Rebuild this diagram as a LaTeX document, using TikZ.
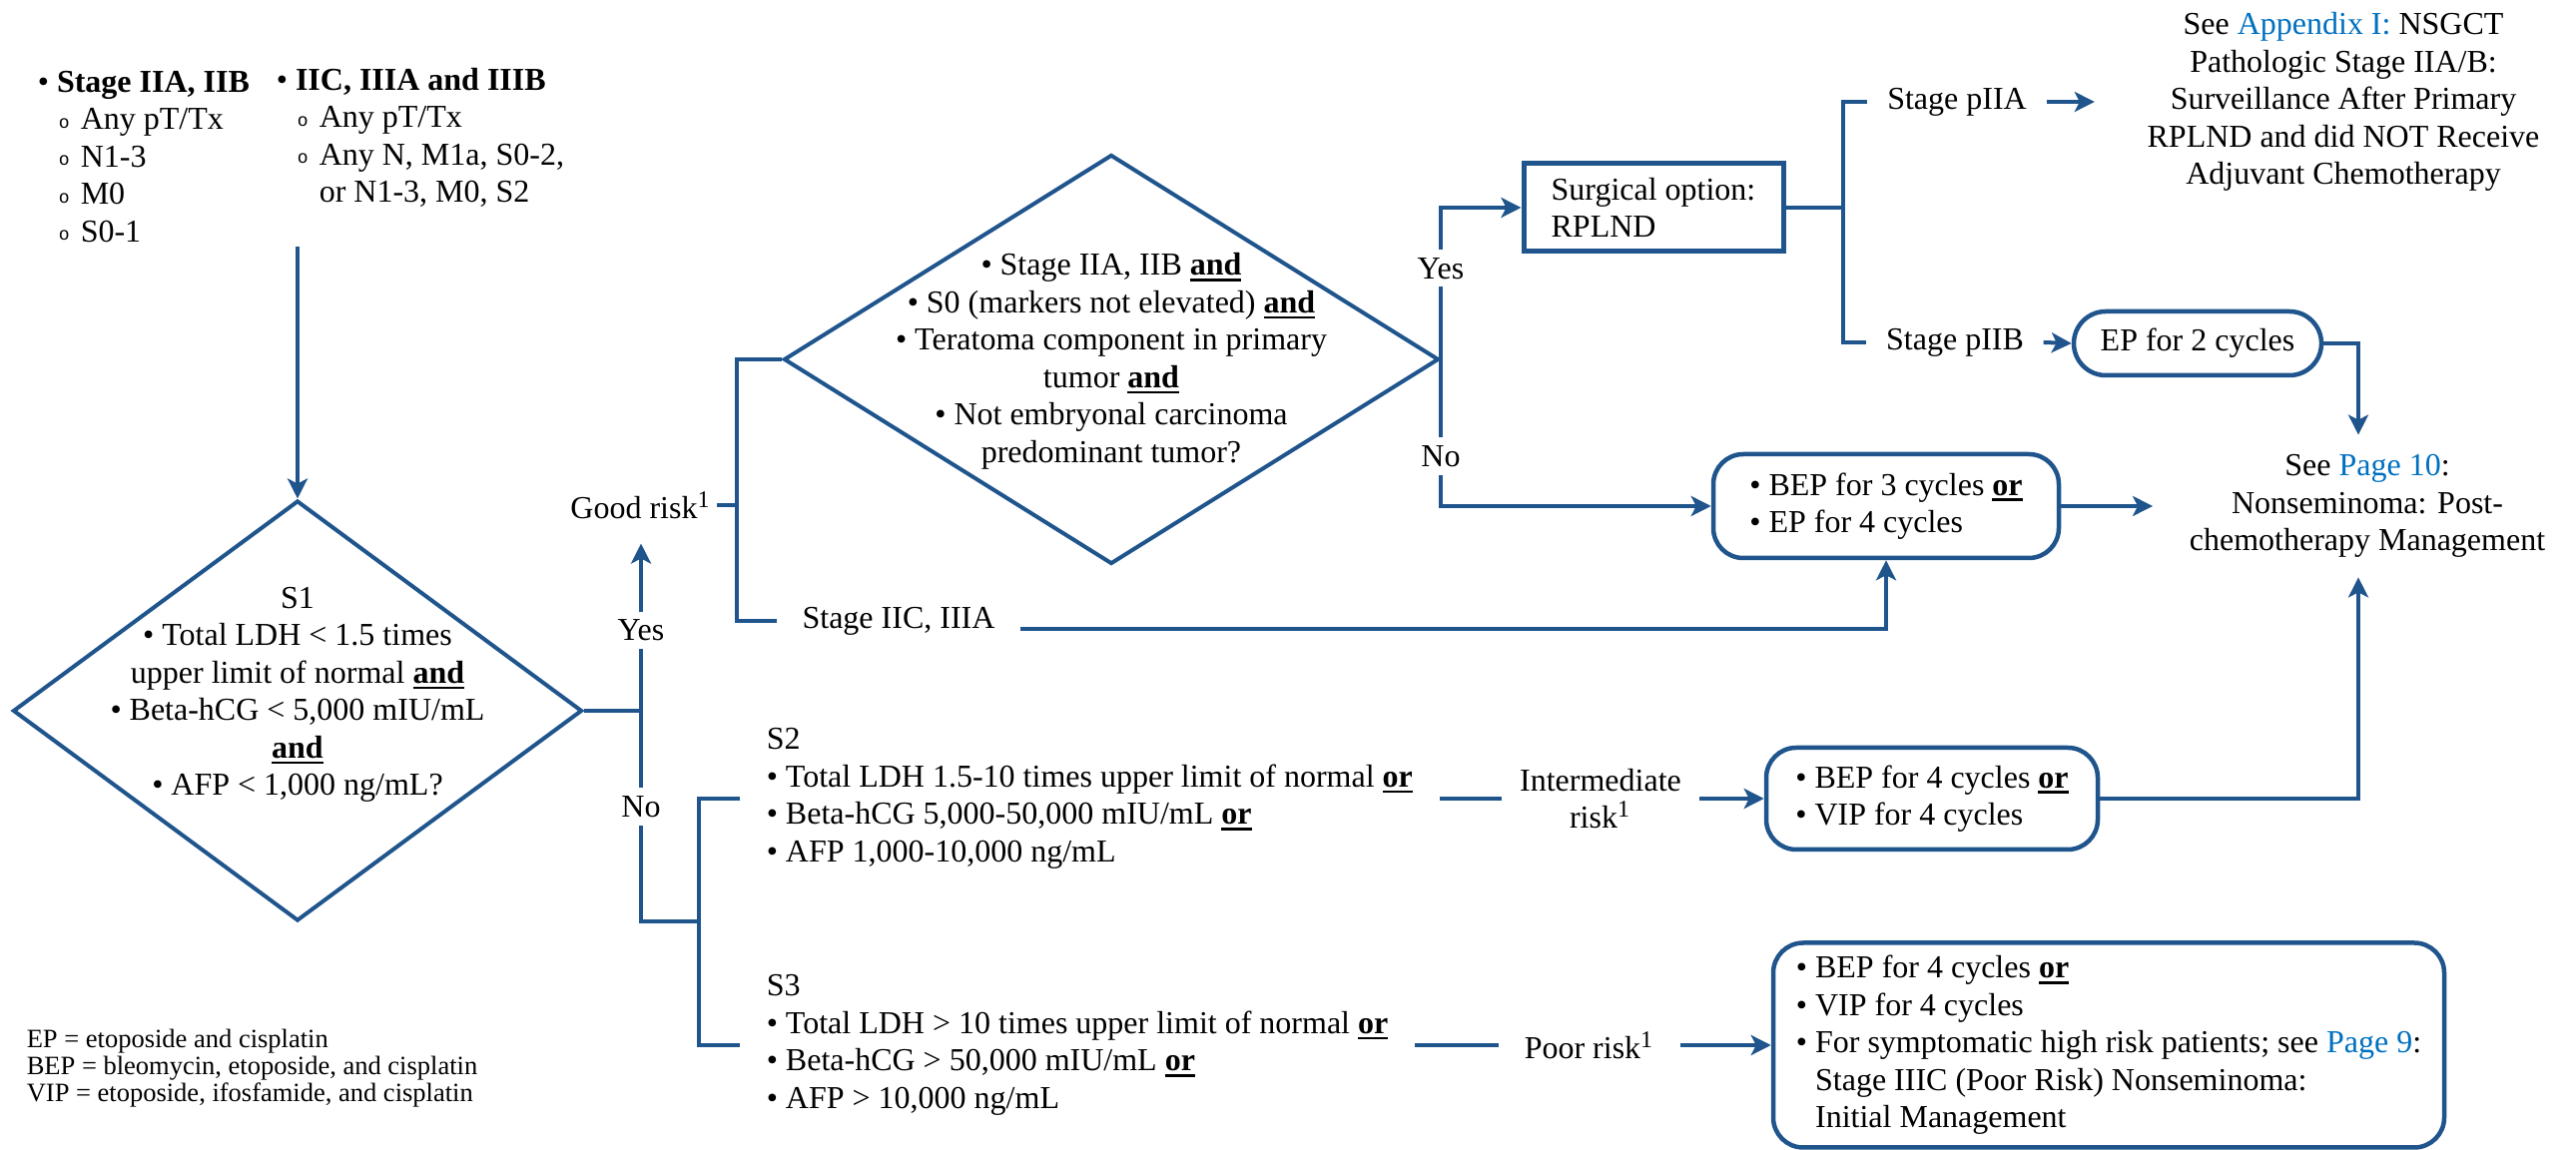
\documentclass[tikz,border=0pt]{standalone}
\usepackage{fontspec}
\setmainfont{Liberation Serif}
\newfontfamily\monofnt{Liberation Mono}
\usetikzlibrary{arrows.meta,shapes.geometric,calc}

\definecolor{flowblue}{RGB}{31,85,140}
\definecolor{linkblue}{RGB}{0,112,192}

% bold underlined keyword
\newsavebox\ulbox
\newcommand\ulbf[1]{\sbox\ulbox{\textbf{#1}}\rlap{\rule[-1.5pt]{\wd\ulbox}{0.65pt}}\usebox\ulbox}
% list markers
\newcommand\bul{\makebox[0.6em][l]{\textbullet}}
\newcommand\bulsp{\hspace*{0.6em}}
\newcommand\subb{\hspace*{5.25pt}\makebox[5.5pt][l]{\raisebox{0.375pt}{\monofnt\fontsize{4.5}{4.5}\selectfont o}}}

\tikzset{
  txt/.style={inner sep=0pt, font=\fontsize{8}{9.375}\selectfont},
  fn/.style={inner sep=0pt, font=\fontsize{6.625}{6.75}\selectfont},
  ln/.style={draw=flowblue, line width=1pt},
  arr/.style={ln, -{Stealth[length=5pt,width=5pt,inset=1.25pt]}},
  lbl/.style={txt, fill=white, inner xsep=0.75pt, inner ysep=2pt},
  rbox/.style={txt, draw=flowblue, line width=1.125pt, rounded corners=7.5pt, align=left},
  sbox/.style={txt, draw=flowblue, line width=1.25pt, align=left},
  pill/.style={txt, draw=flowblue, line width=1.125pt, rounded corners=8pt},
  dia/.style={diamond, draw=flowblue, line width=1pt, inner sep=0pt},
}

\begin{document}
% coordinates are given in units of 0.25pt
\begin{tikzpicture}[x=0.25pt, y=-0.25pt]
\useasboundingbox (0,0) rectangle (2580,1152);

% ---- stage lists ----
\node[txt, anchor=west, align=left] (stA) at (37,157)
  {\bul\textbf{Stage IIA, IIB}\\
   \subb Any pT/Tx\\
   \subb N1-3\\
   \subb M0\\
   \subb S0-1};
\node[txt, anchor=west, align=left] (stB) at (276,138)
  {\bul\textbf{IIC, IIIA and IIIB}\\
   \subb Any pT/Tx\\
   \subb Any N, M1a, S0-2,\\
   \hspace*{10.75pt}or N1-3, M0, S2};

% ---- S1 decision ----
\node[dia, minimum width=142.5pt, minimum height=105.25pt] (s1) at (298,712) {};
\node[txt, align=center] (s1t) at (298,696)
  {S1\\
   \bul Total LDH < 1.5 times\\
   upper limit of normal \ulbf{and}\\
   \bul Beta-hCG < 5,000 mIU/mL\\
   \ulbf{and}\\
   \bul AFP < 1,000 ng/mL?};
\coordinate (a0) at (298,247);
\draw[arr] (a0) -- (s1.north);

\coordinate (j1) at (642,712);
\coordinate (j2) at (642,923);
\coordinate (b2) at (700,923);
\node[txt, inner xsep=1.25pt] (good) at (642,506) {Good risk\textsuperscript{1}};
\draw[ln] (s1.east) -- (j1);
\draw[arr] (j1) -- node[lbl, pos=0.48] {Yes} ([yshift=-6pt]good.south);
\draw[ln] (j1) -- node[lbl, pos=0.455] {No} (j2) -- (b2);

% ---- good risk: teratoma decision ----
\node[dia, minimum width=164pt, minimum height=102.5pt] (d2) at (1113,360) {};
\node[txt, align=center] (d2t) at (1113,362)
  {\bul Stage IIA, IIB \ulbf{and}\\
   \bul S0 (markers not elevated) \ulbf{and}\\
   \bul Teratoma component in primary\\
   tumor \ulbf{and}\\
   \bul Not embryonal carcinoma\\
   predominant tumor?};
\coordinate (gb) at (738,506);
\node[txt, inner xsep=6.25pt] (st2c) at (900,622) {Stage IIC, IIIA};
\draw[ln] (good.east) -- (gb);
\draw[ln] (d2.west) -| (gb) |- (st2c.west);

\node[sbox, minimum width=65pt, minimum height=22pt] (surg) at (1656,208)
  {Surgical option:\\ RPLND};
\node[rbox, minimum width=86.5pt, minimum height=26pt] (bep3) at (1889,507)
  {\bul BEP for 3 cycles \ulbf{or}\\ \bul EP for 4 cycles};
\draw[arr] (d2.east) |- node[lbl, pos=0.3] {Yes} (surg.west);
\draw[arr] (d2.east) |- node[lbl, pos=0.33] {No} (bep3.west);
\draw[arr] ([yshift=-2pt]st2c.east) -| (bep3.south);

% ---- pathologic stage after RPLND ----
\coordinate (sb) at (1846,208);
\node[txt, inner xsep=4.75pt] (p2a) at (1960,102) {Stage pIIA};
\node[txt, inner xsep=4.75pt] (p2b) at (1958,343) {Stage pIIB};
\draw[ln] (surg.east) -- (sb);
\draw[ln] (p2a.west) -| (sb) |- (p2b.west);

\node[txt, align=center, inner xsep=13pt] (appx) at (2347,102)
  {See \textcolor{linkblue}{Appendix I:} NSGCT\\
   Pathologic Stage IIA/B:\\
   Surveillance After Primary\\
   RPLND and did NOT Receive\\
   Adjuvant Chemotherapy};
\draw[arr] (p2a.east) -- (appx.west);

\node[pill, minimum width=62pt, minimum height=16pt] (ep2) at (2201,344) {EP for 2 cycles};
\draw[arr] (p2b.east) -- (ep2.west);

\node[txt, align=center, inner xsep=9pt, inner ysep=4.75pt] (see10) at (2371,507)
  {See \textcolor{linkblue}{Page 10}:\\
   Nonseminoma: Post-\\
   chemotherapy Management};
\draw[arr] (ep2.east) -| ([xshift=-2.25pt]see10.north);
\draw[arr] (bep3.east) -- (see10.west);

% ---- S2 / S3 ----
\node[txt, anchor=west, align=left, inner xsep=6.5pt] (s2t) at (741,800)
  {S2\\
   \bul Total LDH 1.5-10 times upper limit of normal \ulbf{or}\\
   \bul Beta-hCG 5,000-50,000 mIU/mL \ulbf{or}\\
   \bul AFP 1,000-10,000 ng/mL};
\node[txt, anchor=west, align=left, inner xsep=6.5pt] (s3t) at (741,1047)
  {S3\\
   \bul Total LDH > 10 times upper limit of normal \ulbf{or}\\
   \bul Beta-hCG > 50,000 mIU/mL \ulbf{or}\\
   \bul AFP > 10,000 ng/mL};
\draw[ln] (s2t.west) -| (b2) |- (s3t.west);

\node[txt, align=center, inner xsep=4.25pt] (inter) at (1603,800)
  {Intermediate\\ risk\textsuperscript{1}};
\node[rbox, minimum width=83pt, minimum height=25.5pt] (bep4) at (1935,800)
  {\bul BEP for 4 cycles \ulbf{or}\\ \bul VIP for 4 cycles};
\draw[ln] (s2t.east) -- (inter.west);
\draw[arr] (inter.east) -- (bep4.west);
\draw[arr] (bep4.east) -| ([xshift=-2.25pt]see10.south);

\node[txt, inner xsep=6.25pt] (poor) at (1592,1047) {Poor risk\textsuperscript{1}};
\node[rbox, minimum width=168pt, minimum height=51.25pt] (pbox) at (2112,1047)
  {\bul BEP for 4 cycles \ulbf{or}\\
   \bul VIP for 4 cycles\\
   \bul For symptomatic high risk patients; see \textcolor{linkblue}{Page 9}:\\
   \bulsp Stage IIIC (Poor Risk) Nonseminoma:\\
   \bulsp Initial Management};
\draw[ln] (s3t.east) -- (poor.west);
\draw[arr] (poor.east) -- (pbox.west);

% ---- abbreviations ----
\node[fn, anchor=west, align=left] (legend) at (26,1070)
  {EP = etoposide and cisplatin\\
   BEP = bleomycin, etoposide, and cisplatin\\
   VIP = etoposide, ifosfamide, and cisplatin};
\end{tikzpicture}
\end{document}
